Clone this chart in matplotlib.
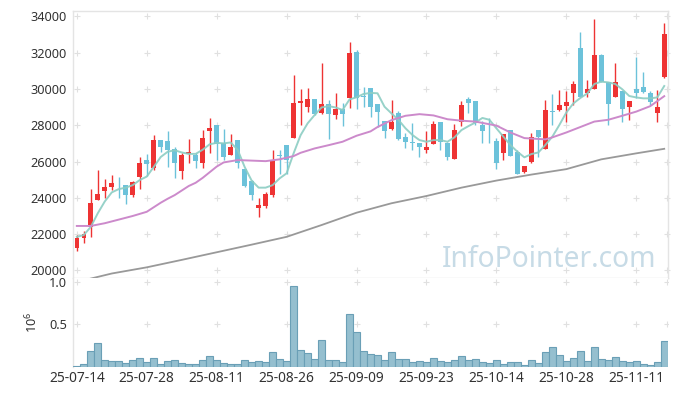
import matplotlib
matplotlib.use('Agg')
import matplotlib.pyplot as plt
import numpy as np

plt.rcParams['font.family'] = ['Noto Sans', 'DejaVu Sans']
plt.rcParams['mathtext.default'] = 'regular'

# daily candles, 85 trading days (25-07-14 .. 25-11-17)
opens = [21250, 21760, 22410, 23900, 24390, 24610, 24760, 24690, 24150, 25160,
         26060, 25620, 27180, 27130, 26690, 25490, 26390, 26340, 25940, 27700,
         28010, 27000, 26380, 27180, 25590, 24920, 23455, 23550, 24150, 26320,
         26910, 27270, 29200, 29020, 29420, 28690, 29150, 28560, 28870, 29480,
         32010, 29620, 30040, 29170, 28230, 27790, 28650, 27350, 27060, 27000,
         26630, 26980, 28170, 27040, 26150, 28190, 29420, 29330, 28010, 27070,
         27130, 26450, 27720, 26500, 25440, 25990, 27730, 26710, 28760, 28840,
         29060, 29790, 32230, 29790, 30010, 31870, 30380, 29570, 29880, 29020,
         29980, 30090, 29750, 28690, 30670]
highs = [21950, 22170, 24460, 25530, 25020, 25240, 25130, 24720, 24920, 26270,
         26390, 27460, 27190, 27680, 26820, 26450, 27220, 26450, 27730, 28380,
         28030, 27770, 27500, 27190, 25600, 24990, 23970, 24320, 26630, 26630,
         26910, 30770, 29980, 30070, 29430, 31450, 29390, 29750, 29240, 32570,
         32140, 30080, 30060, 29180, 28240, 29390, 28780, 27550, 28120, 27010,
         27700, 28250, 28180, 27050, 28040, 29350, 29570, 29340, 28250, 28380,
         27280, 27520, 27720, 26630, 25760, 27550, 27740, 29390, 29720, 29940,
         29900, 30450, 33150, 30490, 33830, 31900, 30390, 31410, 29890, 29340,
         31770, 30950, 29880, 29940, 33650]
lows = [21050, 21530, 21820, 23880, 23970, 24430, 23970, 23640, 24060, 24470,
        25200, 25530, 26500, 25710, 25070, 25020, 25940, 25620, 25620, 26450,
        26080, 26080, 26360, 25620, 24580, 23880, 22960, 23420, 24060, 25310,
        25310, 27270, 28010, 28740, 28560, 28620, 27240, 28320, 27960, 28930,
        28900, 28980, 28460, 27910, 27300, 27730, 27180, 26720, 26630, 26270,
        26450, 26960, 26630, 26060, 26150, 27960, 28670, 28030, 27000, 27000,
        25570, 26080, 26280, 25300, 25350, 25900, 26270, 26700, 28010, 28800,
        28190, 29110, 29560, 29570, 30000, 30390, 28010, 29530, 28190, 28290,
        29480, 29750, 29110, 28190, 30580]
closes = [21790, 21990, 23690, 24190, 24580, 24800, 24740, 24170, 24870, 25900,
          25880, 27180, 26820, 26630, 25940, 26360, 26520, 26030, 27290, 27850,
          26960, 26270, 26800, 25900, 24650, 24150, 23600, 24190, 26080, 26300,
          26080, 29240, 29330, 29420, 28600, 29150, 28600, 28870, 28600, 31960,
          29480, 29580, 28980, 28740, 27690, 28180, 27240, 27090, 27030, 26820,
          26780, 28070, 27090, 26270, 27730, 29110, 29240, 28120, 27700, 27050,
          25930, 27510, 26300, 25310, 25750, 27350, 27370, 28840, 28750, 29110,
          29270, 30270, 29570, 29980, 31870, 30400, 29150, 30380, 28870, 29330,
          29790, 29810, 29260, 28980, 33020]
# volume in millions
volume = [0.012, 0.031, 0.18, 0.275, 0.075, 0.063, 0.063, 0.043, 0.075, 0.098,
          0.055, 0.098, 0.031, 0.063, 0.075, 0.043, 0.031, 0.031, 0.075, 0.126,
          0.075, 0.043, 0.031, 0.031, 0.075, 0.055, 0.063, 0.055, 0.169, 0.086,
          0.063, 0.947, 0.193, 0.157, 0.086, 0.31, 0.075, 0.075, 0.055, 0.617,
          0.405, 0.181, 0.149, 0.138, 0.075, 0.169, 0.086, 0.086, 0.055, 0.063,
          0.055, 0.098, 0.063, 0.055, 0.075, 0.122, 0.075, 0.086, 0.055, 0.043,
          0.075, 0.031, 0.055, 0.055, 0.020, 0.075, 0.043, 0.169, 0.228, 0.138,
          0.063, 0.098, 0.181, 0.063, 0.228, 0.086, 0.075, 0.110, 0.063, 0.055,
          0.063, 0.031, 0.020, 0.055, 0.299]

# moving averages
ma5 = [21850, 21950, 22400, 23150, 23800, 24300, 24480, 24560, 24700, 24980,
       25170, 25700, 26250, 26540, 26620, 26500, 26420, 26420, 26650, 26950,
       27030, 27000, 27050, 26650, 25700, 24950, 24560, 24560, 24700, 25070,
       25350, 26450, 27450, 28100, 28560, 28980, 29050, 28980, 28840, 29420,
       29540, 29720, 29780, 29760, 29020, 28650, 28290, 27830, 27460, 27180,
       27090, 27180, 27180, 27090, 27330, 27730, 27950, 28150, 28400, 28300,
       27830, 27370, 26910, 26540, 26230, 26410, 26500, 26910, 27370, 28010,
       28700, 29200, 29500, 29750, 30270, 30400, 30360, 30270, 29980, 29610,
       29530, 29480, 29480, 29530, 30160]
ma20_idx = [0, 2, 4, 6, 8, 10, 12, 13, 14, 16, 17, 18, 20, 21, 23, 25, 27, 29, 31,
            32, 34, 36, 38, 40, 42, 43, 45, 47, 49, 51, 53, 55, 57, 60, 62, 64,
            67, 68, 70, 72, 74, 76, 78, 80, 82, 84]
ma20_val = [22450, 22450, 22600, 22800, 23000, 23230, 23730, 23950, 24150, 24650,
            24830, 25100, 25720, 25950, 26080, 26050, 26020, 26120, 26300, 26480,
            26720, 26900, 27090, 27420, 27660, 27900, 28280, 28520, 28610, 28540,
            28330, 28250, 28200, 27980, 27600, 27290, 27220, 27330, 27600, 27900,
            28200, 28300, 28520, 28750, 29050, 29600]
ma120_idx = [2, 5, 10, 15, 20, 25, 30, 35, 40, 45, 50, 55, 60, 65, 70, 75, 80, 84]
ma120_val = [19550, 19830, 20170, 20580, 21000, 21420, 21850, 22500, 23180, 23700,
             24100, 24560, 24950, 25280, 25580, 26120, 26450, 26700]

tick_pos = [0, 10, 20, 30, 40, 50, 60, 70, 80]
tick_labels = ['25-07-14', '25-07-28', '25-08-11', '25-08-26', '25-09-09',
               '25-09-23', '25-10-14', '25-10-28', '25-11-11']
price_ticks = [20000, 22000, 24000, 26000, 28000, 30000, 32000, 34000]

UP = '#EE3333'
DOWN = '#6CC2DA'
SPINE = '#e4e4e4'
TXT = '#333333'

fig = plt.figure(figsize=(6.77, 3.96), dpi=100)
ax = fig.add_axes([0.1083, 0.2972, 0.878, 0.6758])
axv = fig.add_axes([0.1083, 0.074, 0.878, 0.2232], sharex=ax)

o = np.array(opens); h = np.array(highs); l = np.array(lows); c = np.array(closes)
x = np.arange(len(o))
col = np.where(c >= o, UP, DOWN)

ax.vlines(x, l, h, colors=col, linewidth=1.0, zorder=2)
ax.bar(x, np.maximum(np.abs(c - o), 45), bottom=np.minimum(o, c), width=0.66,
       color=col, linewidth=0, zorder=3)

ax.plot(x, ma5, color='#8ccdc3', lw=1.4, alpha=0.9, zorder=4)
ax.plot(ma20_idx, ma20_val, color='#cc8acb', lw=1.4, zorder=4)
ax.plot(ma120_idx, ma120_val, color='#999999', lw=1.3, zorder=4)

ax.set_xlim(-0.5, 84.5)
ax.set_ylim(19565, 34310)
ax.set_yticks(price_ticks)
ax.set_yticklabels([str(v) for v in price_ticks])
ax.tick_params(axis='y', length=0, pad=4.5, labelsize=9.2, labelcolor=TXT)
ax.tick_params(axis='x', length=0, labelbottom=False)

# grid shown as small plus marks
gx, gy = np.meshgrid(tick_pos + [84.4], price_ticks)
ax.plot(gx.ravel(), gy.ravel(), ls='none', marker='+', ms=4.5, mew=0.8,
        color='#e0e0e0', zorder=1, clip_on=False)

ax.text(0.62, 0.042, 'InfoPointer.com', transform=ax.transAxes, fontsize=20.3,
        color='#c7dbe6', ha='left', va='baseline', zorder=0)

axv.bar(x, volume, width=1.0, color='#95bfcf', edgecolor='#6a9fb6',
        linewidth=0.8, zorder=3)
axv.set_ylim(0, 1.04)
axv.set_yticks([0.5, 1.0])
axv.set_yticklabels(['0.5', '1.0'])
axv.set_xticks(tick_pos)
axv.set_xticklabels(tick_labels)
axv.tick_params(axis='y', length=0, pad=4.5, labelsize=9.2, labelcolor=TXT)
axv.tick_params(axis='x', length=0, pad=3.2, labelsize=9.9, labelcolor=TXT)
gx2, gy2 = np.meshgrid(tick_pos + [84.4], [0.5, 1.0])
axv.plot(gx2.ravel(), gy2.ravel(), ls='none', marker='+', ms=4.5, mew=0.8,
         color='#e0e0e0', zorder=1)
axv.set_ylabel('$10^6$', fontsize=9.2, color=TXT, labelpad=6)

for a in (ax, axv):
    for s in a.spines.values():
        s.set_color(SPINE)
        s.set_linewidth(1.0)
axv.spines['top'].set_visible(False)
axv.spines['right'].set_visible(False)
axv.spines['bottom'].set_visible(False)

fig.savefig('out.png', dpi=100)
